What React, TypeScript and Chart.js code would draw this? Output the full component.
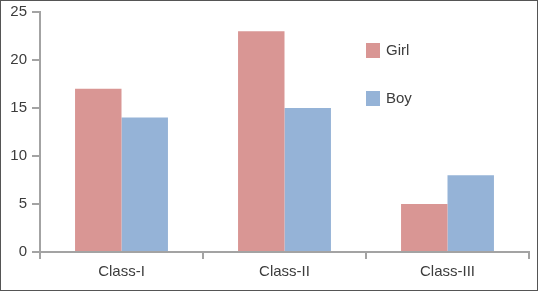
import React, { useEffect, useRef } from "react";
import { Chart, registerables } from "chart.js";

Chart.register(...registerables);

const categories = ["Class-I", "Class-II", "Class-III"];
const girlValues = [17, 23, 5];
const boyValues = [14, 15, 8];
const seriesNames = ["Girl", "Boy"];
const seriesColors = ["#D99694", "#95B3D7"];
const yTicks = [0, 5, 10, 15, 20, 25];

const FONT = "'Liberation Sans', Arial, sans-serif";
const TEXT = "#3c3c3c";
const AXIS = "#A3A3A3";

const legendPlugin = {
  id: "customLegend",
  afterDraw(chart: any) {
    const ctx = chart.ctx;
    const area = chart.chartArea;
    const x = area.left + 326;
    const y0 = 42;
    ctx.save();
    ctx.font = `15px ${FONT}`;
    ctx.textBaseline = "middle";
    ctx.textAlign = "left";
    seriesNames.forEach((name, i) => {
      const y = y0 + i * 48;
      ctx.fillStyle = seriesColors[i];
      ctx.fillRect(x, y, 14, 15);
      ctx.fillStyle = TEXT;
      ctx.fillText(name, x + 20, y + 8);
    });
    ctx.restore();
  },
};

export default function App() {
  const ref = useRef<HTMLCanvasElement | null>(null);
  useEffect(() => {
    document.body.style.margin = "0";
    const chart = new Chart(ref.current!, {
      type: "bar",
      data: {
        labels: categories,
        datasets: [
          { label: seriesNames[0], data: girlValues, backgroundColor: seriesColors[0] },
          { label: seriesNames[1], data: boyValues, backgroundColor: seriesColors[1] },
        ],
      },
      options: {
        animation: false,
        responsive: false,
        maintainAspectRatio: false,
        layout: { padding: { top: 11, right: 8, left: 0, bottom: 0 } },
        datasets: { bar: { categoryPercentage: 0.57, barPercentage: 1 } },
        plugins: { legend: { display: false }, tooltip: { enabled: false } },
        scales: {
          x: {
            grid: {
              offset: true,
              drawOnChartArea: false,
              drawTicks: true,
              tickLength: 7,
              color: AXIS,
              lineWidth: 2,
            },
            border: { color: AXIS, width: 2 },
            ticks: { color: TEXT, font: { family: FONT, size: 15 }, padding: 4 },
            afterFit: (s: any) => {
              s.height = 38;
              s.paddingLeft = 0;
              s.paddingRight = 0;
            },
          },
          y: {
            min: 0,
            max: 25,
            afterBuildTicks: (s: any) => {
              s.ticks = yTicks.map((v) => ({ value: v }));
            },
            grid: {
              drawOnChartArea: false,
              drawTicks: true,
              tickLength: 8,
              color: AXIS,
              lineWidth: 2,
            },
            border: { color: AXIS, width: 2 },
            ticks: { color: TEXT, font: { family: FONT, size: 15 }, padding: 5 },
            afterFit: (s: any) => {
              s.width = 39;
              s.paddingTop = 0;
              s.paddingBottom = 0;
            },
          },
        },
      },
      plugins: [legendPlugin],
    });
    return () => chart.destroy();
  }, []);
  return (
    <div
      style={{
        position: "absolute",
        left: 0,
        top: 0,
        width: 538,
        height: 291,
        border: "1px solid #555",
        boxSizing: "border-box",
        background: "#fff",
      }}
    >
      <canvas ref={ref} width={536} height={289} style={{ display: "block" }} />
    </div>
  );
}
